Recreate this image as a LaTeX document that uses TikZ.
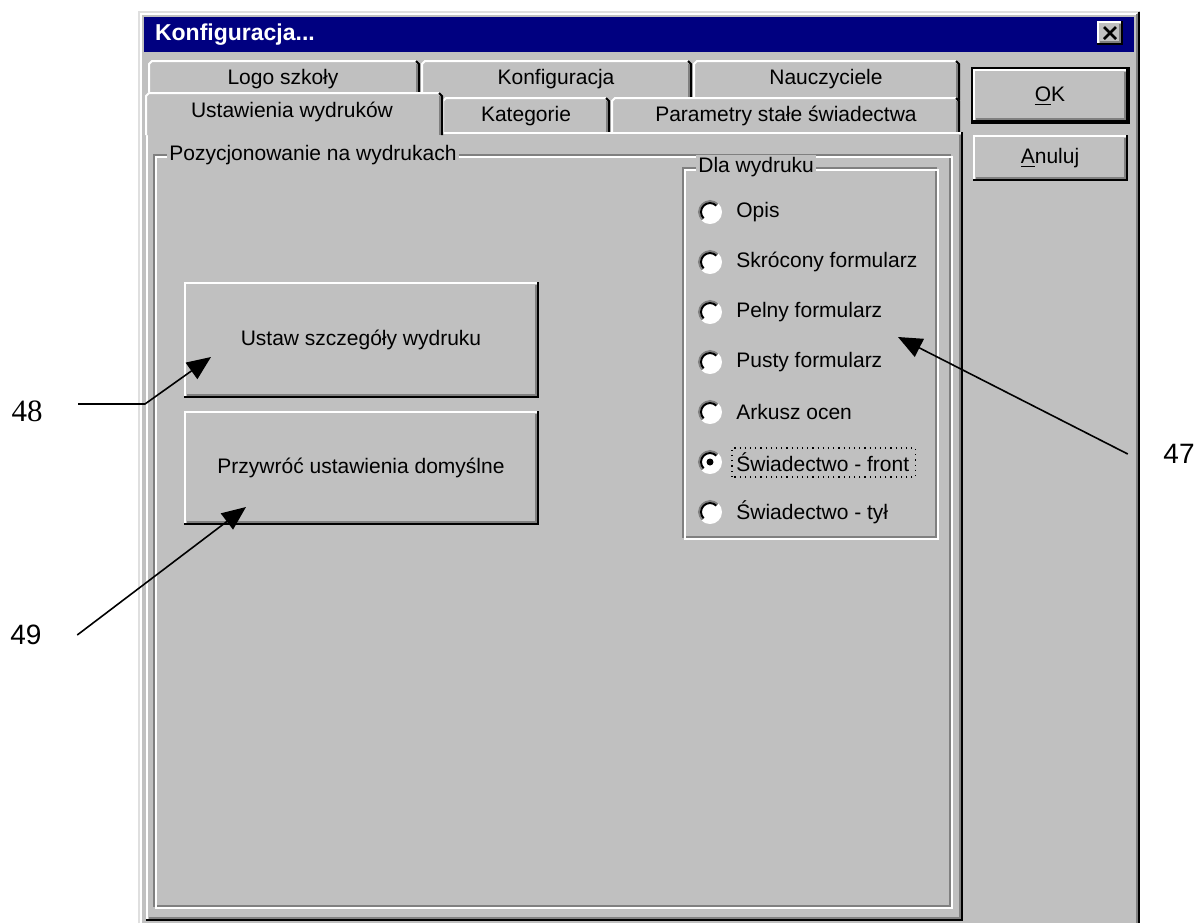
\documentclass[tikz,border=0pt]{standalone}
\usepackage{fontspec}
\setmainfont{Liberation Sans}
\newfontfamily\serifnum{Liberation Serif}
\usetikzlibrary{arrows.meta}

\definecolor{winface}{RGB}{192,192,192}
\definecolor{windark}{RGB}{128,128,128}
\definecolor{winlight}{RGB}{223,223,223}
\definecolor{winnavy}{RGB}{0,0,128}

% Przycisk / panel wypukly: lewy, gorny, prawy, dolny
\newcommand{\winbutton}[4]{%
  \fill[winface] (#1,#2) rectangle (#3,#4);
  \draw[white, line width=1pt] (#1+1,#4-1) -- (#1+1,#2+1) -- (#3-1,#2+1);
  \draw[windark, line width=1pt] (#1+3,#4-3) -- (#3-3,#4-3) -- (#3-3,#2+3);
  \draw[black, line width=1pt] (#1,#4-1) -- (#3-1,#4-1) -- (#3-1,#2);
}
% Ramka grupy (wytloczona)
\newcommand{\wingroup}[4]{%
  \draw[windark, line width=1pt] (#1,#2) rectangle (#3,#4);
  \draw[white, line width=1pt] (#1+2,#2+2) rectangle (#3+2,#4+2);
}
% Zakladka
\newcommand{\wintab}[4]{%
  \fill[winface] (#1,#4) -- (#1,#2+4) -- (#1+4,#2) -- (#3-4,#2) -- (#3,#2+4) -- (#3,#4) -- cycle;
  \draw[white, line width=1pt] (#1+1,#4) -- (#1+1,#2+4) -- (#1+4,#2+1) -- (#3-4,#2+1);
  \draw[windark, line width=1pt] (#3-3,#2+4) -- (#3-3,#4);
  \draw[black, line width=1pt] (#3-4,#2+1) -- (#3-1,#2+4) -- (#3-1,#4);
}

\begin{document}
\begin{tikzpicture}[x=0.5pt, y=-0.5pt,
    ui/.style={font=\fontsize{10.5}{12}\selectfont, inner sep=1pt},
    callout/.style={font=\fontsize{14}{16}\selectfont, outer xsep=14.5pt},
    pointer/.style={-{Triangle[length=12pt,width=10pt]}, line width=0.8pt}]

    \useasboundingbox (0,0) rectangle (1196,923);

    % Okno dialogowe
    \fill[winface] (138,11) rectangle (1140,923);
    \draw[winlight, line width=1pt] (139,923) -- (139,12) -- (1139,12);
    \draw[white, line width=1pt] (141,923) -- (141,14) -- (1137,14);
    \draw[windark, line width=1pt] (1137,14) -- (1137,923);
    \draw[black, line width=1pt] (1139,12) -- (1139,923);

    % Pasek tytulu
    \fill[winnavy] (144,17) rectangle (1134,52);
    \node[anchor=west, text=white, font=\fontsize{11.5}{13}\selectfont\bfseries] (title) at (148,35) {Konfiguracja...};
    \winbutton{1097}{21}{1123}{45}
    \draw[black, line width=1.4pt] (1104,27) -- (1116,39);
    \draw[black, line width=1.4pt] (1104,39) -- (1116,27);

    % Zakladki - tylny rzad
    \wintab{148}{60}{420}{100}
    \wintab{421}{60}{692}{100}
    \wintab{693}{60}{960}{100}
    \node[ui] (tabLogo) at (283,79) {Logo szkoły};
    \node[ui] (tabKonf) at (556,79) {Konfiguracja};
    \node[ui] (tabNauc) at (826,79) {Nauczyciele};

    % Zakladki - przedni rzad
    \wintab{442}{97}{610}{134}
    \wintab{611}{97}{960}{134}
    \node[ui] (tabKat) at (526,116) {Kategorie};
    \node[ui] (tabParam) at (786,116) {Parametry stałe świadectwa};

    % Panel zakladki
    \winbutton{146}{132}{963}{921}
    \wintab{145}{92}{443}{135}
    \node[ui] (tabUst) at (292,112) {Ustawienia wydruków};

    % Grupa: pozycjonowanie
    \wingroup{154}{155}{950}{906}
    \node[ui, anchor=west, fill=winface] (grpPoz) at (167,155) {Pozycjonowanie na wydrukach};

    % Przyciski w panelu
    \winbutton{184}{282}{539}{398}
    \node[ui] (btnSet) at (361,340) {Ustaw szczegóły wydruku};
    \winbutton{184}{411}{539}{525}
    \node[ui] (btnReset) at (361,468) {Przywróć ustawienia domyślne};

    % Grupa: dla wydruku
    \wingroup{683}{168}{936}{537}
    \node[ui, anchor=west, fill=winface] (grpDla) at (696,167) {Dla wydruku};

    \foreach \txt [count=\i] in {Opis, Skrócony formularz, Pelny formularz, Pusty formularz, Arkusz ocen, Świadectwo - front, Świadectwo - tył} {
        \pgfmathsetmacro\yy{162+50*\i}
        \fill[white] (710,\yy) circle (12);
        \draw[windark, line width=1pt] (710,\yy) ++(135:11) arc (135:315:11);
        \draw[black, line width=1pt] (710,\yy) ++(135:9) arc (135:315:9);
        \node[ui, anchor=west] (opt\i) at (734,\yy) {\txt};
    }
    \fill[black] (710,462) circle (3.5);
    \draw[dotted, line width=0.6pt] ([xshift=-1pt,yshift=-1.5pt]opt6.south west) rectangle ([xshift=2pt,yshift=1pt]opt6.north east);

    % Przyciski OK / Anuluj
    \draw[black, line width=1pt] (972,68) rectangle (1129,123);
    \winbutton{973}{69}{1128}{122}
    \node[ui] (btnOk) at (1050,96) {\underline{O}K};
    \winbutton{973}{135}{1128}{181}
    \node[ui] (btnCancel) at (1050,158) {\underline{A}nuluj};

    % Odnosniki
    \node[callout, font=\serifnum\fontsize{15.5}{17}\selectfont] (n48) at (27,411) {48};
    \node[callout] (n49) at (26,635) {49};
    \node[callout] (n47) at (1179,454) {47};

    \coordinate (bend48) at (145,404);
    \coordinate (tip48) at (211,357);
    \coordinate (tip49) at (246,507);
    \coordinate (tip47) at (898,337);

    \draw[pointer] (n48.east |- bend48) -- (bend48) -- (tip48);
    \draw[pointer] (n49.east) -- (tip49);
    \draw[pointer] (n47.west) -- (tip47);

\end{tikzpicture}
\end{document}
